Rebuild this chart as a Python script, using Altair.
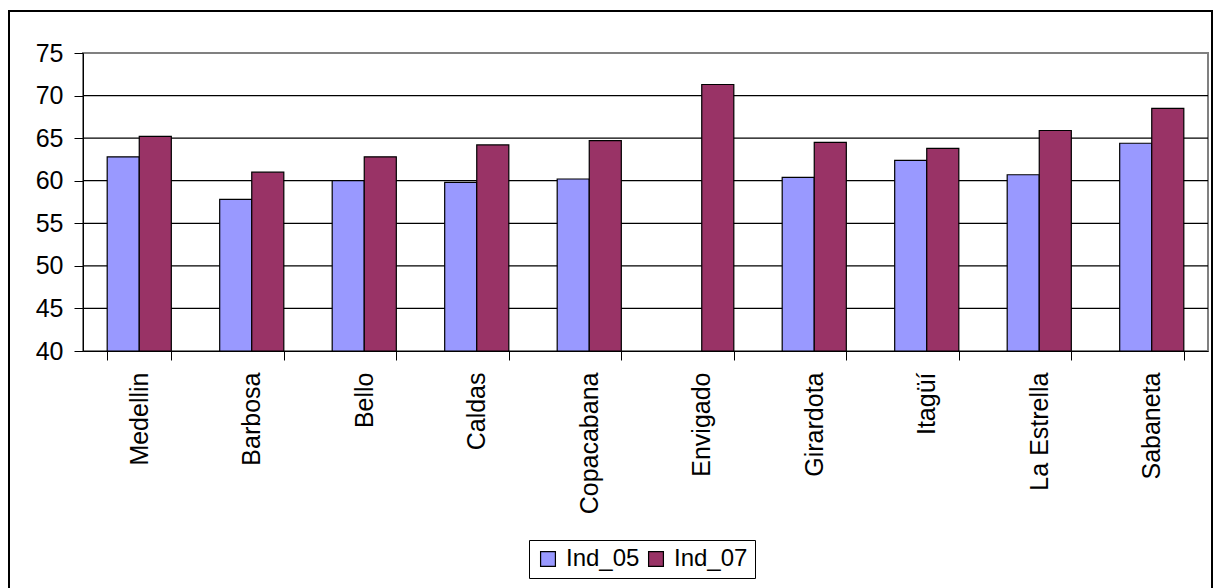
import altair as alt
import pandas as pd

categories = ["Medellin", "Barbosa", "Bello", "Caldas", "Copacabana",
              "Envigado", "Girardota", "Itagüí", "La Estrella", "Sabaneta"]
ind_05 = [62.8, 57.8, 60.0, 59.8, 60.2, None, 60.4, 62.4, 60.7, 64.4]
ind_07 = [65.2, 61.0, 62.8, 64.2, 64.7, 71.3, 64.5, 63.8, 65.9, 68.5]
series = ["Ind_05", "Ind_07"]
colors = ["#9999FF", "#993366"]

rows = []
for c, a, b in zip(categories, ind_05, ind_07):
    if a is not None:
        rows.append({"cat": c, "serie": "Ind_05", "val": a})
    if b is not None:
        rows.append({"cat": c, "serie": "Ind_07", "val": b})
df = pd.DataFrame(rows)

FONT = "Liberation Sans"

bars = alt.Chart(df).mark_bar(stroke="black", strokeWidth=1.2).encode(
    x=alt.X("cat:N", sort=categories, title=None,
            scale=alt.Scale(paddingInner=0.43, paddingOuter=0.215),
            axis=alt.Axis(labelAngle=-90, labelAlign="right", labelBaseline="middle",
                          labelFontSize=25, labelFont=FONT, labelColor="black",
                          tickBand="extent", tickSize=9, tickColor="black",
                          domainColor="black", labelPadding=12, grid=False)),
    xOffset=alt.XOffset("serie:N", sort=series, scale=alt.Scale(paddingInner=0, paddingOuter=0)),
    y=alt.Y("val:Q", title=None,
            scale=alt.Scale(domain=[40, 75], nice=False, zero=False),
            axis=alt.Axis(values=[40, 45, 50, 55, 60, 65, 70, 75],
                          labelFontSize=25, labelFont=FONT, labelColor="black",
                          tickSize=9, tickColor="black", domainColor="black",
                          labelPadding=11, grid=False)),
    y2=alt.datum(40),
    fill=alt.Fill("serie:N", sort=series, scale=alt.Scale(domain=series, range=colors),
                  legend=alt.Legend(title=None, orient="none", direction="horizontal",
                                    legendX=446, legendY=487,
                                    strokeColor="black", padding=7,
                                    symbolType="square", symbolSize=220,
                                    symbolStrokeColor="black", symbolStrokeWidth=1.2,
                                    labelFontSize=24, labelFont=FONT, labelColor="black",
                                    columnPadding=4, labelOffset=6)),
)

grid_df = pd.DataFrame({"g": [45, 50, 55, 60, 65, 70]})
grid = alt.Chart(grid_df).mark_rule(color="black", strokeWidth=1.2).encode(
    y=alt.Y("g:Q", scale=alt.Scale(domain=[40, 75], nice=False, zero=False)),
)

frame = alt.Chart(pd.DataFrame({"f": [1]})).mark_rect(
    fill=None, stroke="black", strokeWidth=2).encode(
    x=alt.value(-74), x2=alt.value(1129), y=alt.value(-42), y2=alt.value(540))

chart = alt.layer(grid, bars, frame).properties(
    width=1125, height=298,
    autosize=alt.AutoSizeParams(type="none"),
    padding={"left": 83, "top": 53, "right": 5, "bottom": 237},
    background="white",
).configure_view(stroke="#808080", strokeWidth=2)

chart.save("out.html", embed_options={"renderer": "svg", "actions": False})
